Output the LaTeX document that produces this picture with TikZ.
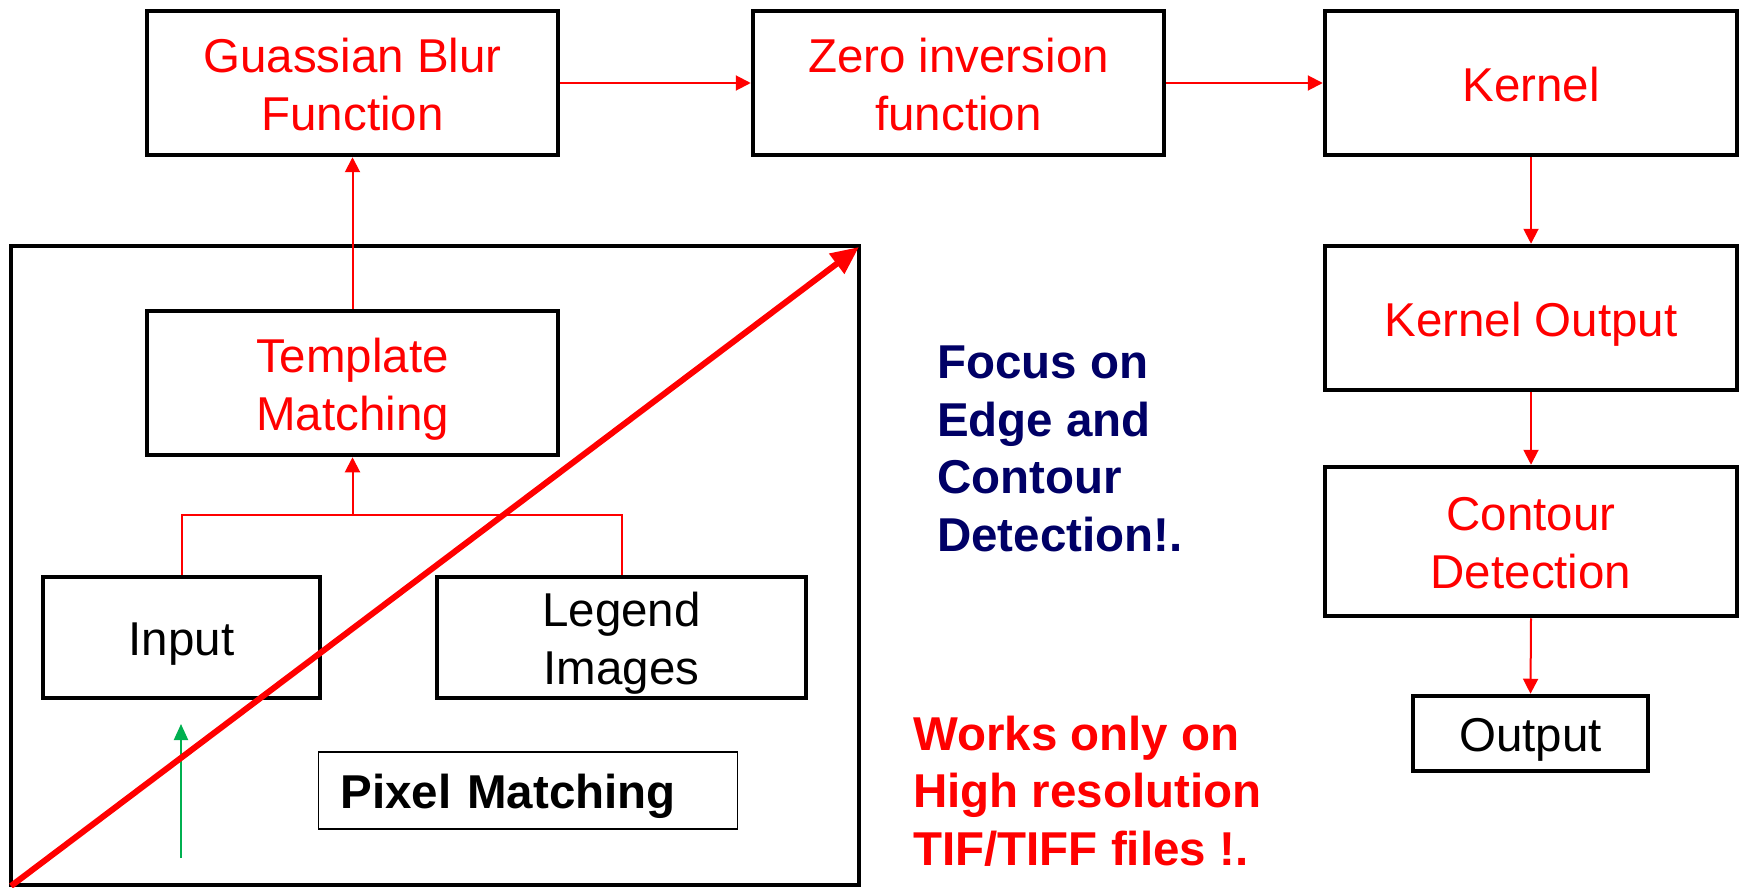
\documentclass[tikz,border=0pt]{standalone}
\usepackage{fontspec}
\setmainfont{Liberation Sans}
\usetikzlibrary{arrows.meta}
\definecolor{pred}{RGB}{255,0,0}
\definecolor{pnavy}{RGB}{0,0,102}
\definecolor{pgreen}{RGB}{0,176,80}
\newcommand\mytopstrut{\rule{0pt}{\dimexpr0.905em+4pt\relax}}
\newcommand\mybotstrut{\rule[-0.212em]{0pt}{0pt}}
\newcommand\twolines[2]{\begin{tabular}{@{}c@{}}\rule{0pt}{54pt}#1\\#2\end{tabular}}
\begin{document}
\begin{tikzpicture}[x=1pt,y=-1pt,
  fbox/.style={draw=black, line width=4.5pt, inner xsep=0pt, inner ysep=-12pt,
    font=\fontsize{47.5}{58}\selectfont},
  oneline/.style={execute at begin node=\mytopstrut, execute at end node=\mybotstrut},
  redtxt/.style={text=pred},
  conn/.style={draw=pred, line width=2pt, -{Triangle[width=15pt,length=15pt]}},
  plain/.style={draw=pred, line width=2pt},
  note/.style={align=left, inner sep=0pt, font=\fontsize{47.5}{57.5}\selectfont\bfseries}
]
\useasboundingbox[fill=white] (0,0) rectangle (1741,888);

% top row
\node[fbox, redtxt, minimum width=411pt, minimum height=144pt] (gauss) at (352.5,83) {\twolines{Guassian Blur}{Function}};
\node[fbox, redtxt, minimum width=411pt, minimum height=144pt] (zero) at (958.5,83) {\twolines{Zero inversion}{function}};
\node[fbox, oneline, redtxt, minimum width=412pt, minimum height=144pt] (kernel) at (1531,83) {Kernel};

% right column
\node[fbox, oneline, redtxt, minimum width=412pt, minimum height=144pt] (kout) at (1531,318) {Kernel Output};
\node[fbox, redtxt, minimum width=412pt, minimum height=149pt] (contour) at (1531,541.5) {\twolines{Contour}{Detection}};
\node[fbox, oneline, minimum width=235pt, minimum height=75pt] (output) at (1530.5,733.5) {Output};

% big frame
\node[draw=black, line width=4.5pt, inner sep=0pt, minimum width=848pt, minimum height=639pt] (big) at (435,565.5) {};

% inside boxes
\node[fbox, redtxt, minimum width=411pt, minimum height=144pt] (template) at (352.5,383) {\twolines{Template}{Matching}};
\node[fbox, oneline, minimum width=277pt, minimum height=121pt] (input) at (181.5,637.5) {Input};
\node[fbox, minimum width=369pt, minimum height=121pt] (legend) at (621.5,637.5) {\twolines{Legend}{Images}};
\node[draw=black, line width=1.5pt, text width=375pt, inner xsep=22pt, inner ysep=0pt,
  minimum height=77pt, align=left, font=\fontsize{47.5}{57.5}\selectfont\bfseries,
  oneline] (pixel) at (528,790.5) {Pixel Matching};

% connectors
\draw[conn] (gauss.east) -- (zero.west);
\draw[conn] (zero.east) -- (kernel.west);
\draw[conn] (kernel.south) -- (kout.north);
\draw[conn] (kout.south) -- (contour.north);
\draw[conn] (contour.south) -- (output.north);
\draw[conn] (template.north) -- (gauss.south);

\coordinate (jn) at (352.5,514.5);
\draw[plain] (input.north) |- (jn) -| (legend.north);
\draw[conn] (jn) -- (template.south);

% green arrow
\coordinate (gstart) at (181,858);
\coordinate (gend) at (181,724);
\draw[draw=pgreen, line width=2pt, -{Triangle[width=14pt,length=16pt]}] (gstart) -- (gend);

% diagonal arrow
\coordinate (dstart) at (11,886);
\coordinate (dend) at (859,247);
\draw[draw=pred, line width=6pt, -{Triangle[width=24pt,length=28pt]}] (dstart) -- (dend);

% notes
\node[note, text=pnavy, anchor=base west] (focus) at (937,551) {Focus on\\Edge and\\Contour\\Detection!.};
\node[note, text=pred, anchor=base west] (works) at (913,865) {Works only on\\High resolution\\TIF/TIFF files !.};
\end{tikzpicture}
\end{document}
